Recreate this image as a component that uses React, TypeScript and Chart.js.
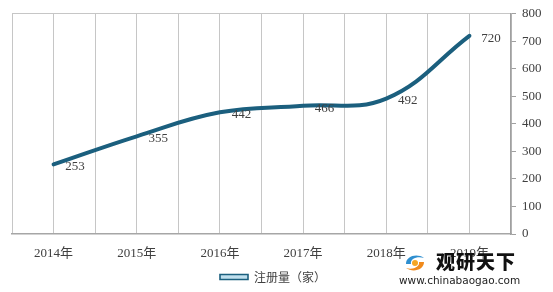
import React, { useEffect, useRef } from "react";
import { Chart, registerables } from "chart.js";

Chart.register(...registerables);

const categories = ["2014年", "2015年", "2016年", "2017年", "2018年", "2019年"];
const registrations = [253, 355, 442, 466, 492, 720];
const yTicks = [0, 100, 200, 300, 400, 500, 600, 700, 800];
const seriesName = "注册量（家）";

const DARK = "#1b5f7e";
const LIGHT = "#bfdfee";
const TEXT = "#404040";
const FONT = "'Liberation Serif', 'Noto Sans CJK SC', serif";

const labelPlugin = {
  id: "valueLabels",
  afterLayout(chart: any) {
    const l = chart.legend;
    if (l) {
      l.left -= 9;
      l.right -= 9;
    }
  },
  afterDatasetsDraw(chart: any) {
    const meta = chart.getDatasetMeta(0);
    const ctx = chart.ctx;
    ctx.save();
    ctx.font = `13px ${FONT}`;
    ctx.fillStyle = TEXT;
    ctx.textAlign = "center";
    ctx.textBaseline = "middle";
    meta.data.forEach((pt: any, i: number) => {
      ctx.fillText(String(registrations[i]), pt.x + 21.5, pt.y + 2.5);
    });
    ctx.restore();
  },
};

const shiftPlugin = {
  id: "shiftHighlight",
  beforeDatasetDraw(chart: any, args: any) {
    if (args.index === 1) {
      chart.ctx.save();
      chart.ctx.translate(0, 0.7);
    }
  },
  afterDatasetDraw(chart: any, args: any) {
    if (args.index === 1) chart.ctx.restore();
  },
};

function App() {
  const ref = useRef<HTMLCanvasElement>(null);
  useEffect(() => {
    if (!ref.current) return;
    const pts = registrations.map((v, i) => ({ x: i, y: v }));
    const chart = new Chart(ref.current, {
      type: "line",
      data: {
        datasets: [
          {
            label: seriesName,
            data: pts,
            borderColor: DARK,
            borderWidth: 4,
            tension: 0.4,
            pointRadius: 0,
            borderCapStyle: "round",
          },
          {
            label: "_hl",
            data: pts,
            borderColor: LIGHT,
            borderWidth: 1.3,
            tension: 0.4,
            pointRadius: 0,
          },
        ],
      },
      options: {
        animation: false,
        responsive: false,
        layout: { padding: { left: 11, right: 0, top: 7, bottom: -1 } },
        plugins: {
          tooltip: { enabled: false },
          legend: {
            position: "bottom",
            labels: {
              boxWidth: 28,
              boxHeight: 5,
              padding: 4,
              color: TEXT,
              font: { size: 12, family: "'Noto Sans CJK SC', sans-serif" },
              generateLabels: () => [
                {
                  text: seriesName,
                  fillStyle: LIGHT,
                  strokeStyle: DARK,
                  lineWidth: 1.6,
                  hidden: false,
                  datasetIndex: 0,
                  fontColor: TEXT,
                } as any,
              ],
            },
          },
        },
        scales: {
          x: {
            type: "linear",
            min: -0.5,
            max: 5.5,
            afterFit: (s: any) => {
              s.height = 33;
            },
            afterBuildTicks: (s: any) => {
              const t = [];
              for (let i = -1; i <= 11; i++) t.push({ value: i / 2 });
              s.ticks = t;
            },
            ticks: {
              autoSkip: false,
              maxRotation: 0,
              padding: 12,
              color: TEXT,
              font: { size: 13, family: FONT },
              callback: (v: any) =>
                Number.isInteger(v) && categories[v] ? categories[v] : "",
            },
            grid: { color: "#c6c6c6", lineWidth: 1, drawTicks: false },
            border: { color: "#a6a6a6", width: 1.5 },
          },
          y: {
            position: "right",
            min: 0,
            max: 800,
            afterFit: (s: any) => {
              s.width = 42;
            },
            afterBuildTicks: (s: any) => {
              s.ticks = yTicks.map((v) => ({ value: v }));
            },
            ticks: {
              padding: 6,
              color: TEXT,
              font: { size: 13, family: FONT },
            },
            grid: {
              tickLength: 5,
              tickColor: "#a0a0a0",
              color: (c: any) => (c.tick && c.tick.value === 800 ? "#c6c6c6" : "rgba(0,0,0,0)"),
            },
            border: { color: "#a0a0a0", width: 1.5 },
          },
        },
      },
      plugins: [shiftPlugin, labelPlugin],
    } as any);
    return () => chart.destroy();
  }, []);

  return (
    <div style={{ position: "absolute", left: 0, top: 0, width: 553, height: 292, background: "#fff" }}>
      <canvas ref={ref} width={553} height={292} style={{ display: "block" }} />
      <svg
        width={24}
        height={22}
        viewBox="0 0 24 22"
        style={{ position: "absolute", left: 403, top: 252 }}
      >
        <path d="M3 12 C3 4 14 1 21 6 C14 4 7 7 8 12 Z" fill="#2f8fd0" />
        <path d="M21 10 C21 18 10 21 3 16 C10 18 17 15 16 10 Z" fill="#f08a1c" />
        <circle cx="12" cy="11" r="3" fill="#f5a623" />
      </svg>
      <div
        style={{
          position: "absolute",
          left: 436,
          top: 250,
          fontFamily: "'Noto Sans CJK SC', sans-serif",
          fontWeight: 900,
          fontSize: 19,
          letterSpacing: 1,
          color: "#111",
          lineHeight: "22px",
        }}
      >
        观研天下
      </div>
      <div
        style={{
          position: "absolute",
          left: 399,
          top: 274,
          fontFamily: "'DejaVu Sans', sans-serif",
          fontSize: 10.5,
          color: "#222",
          lineHeight: "13px",
        }}
      >
        www.chinabaogao.com
      </div>
    </div>
  );
}

export default App;
